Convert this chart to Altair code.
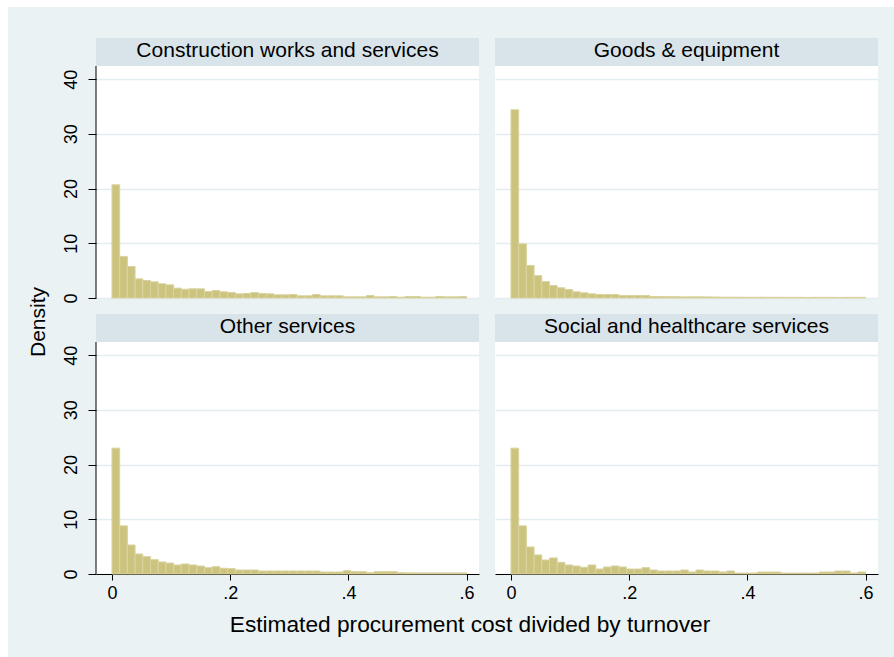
import altair as alt
import numpy as np
import pandas as pd

# Histogram densities per procurement category (46 equal bins on [0, 0.6])
N_BINS = 46
X_MAX = 0.6

construction = [20.7, 7.6, 5.76, 3.5, 3.2, 2.96, 2.6, 2.4, 1.8, 1.6,
                1.68, 1.68, 1.19, 1.37, 1.13, 1.0, 0.76, 0.82, 1.0, 0.82,
                0.76, 0.58, 0.58, 0.64, 0.4, 0.4, 0.64, 0.4, 0.4, 0.4,
                0.21, 0.21, 0.21, 0.46, 0.21, 0.21, 0.27, 0.15, 0.27, 0.27,
                0.15, 0.15, 0.27, 0.21, 0.21, 0.27]
goods = [34.4, 9.9, 5.95, 4.1, 3.0, 2.3, 1.86, 1.55, 1.13, 0.95,
         0.76, 0.64, 0.64, 0.64, 0.46, 0.46, 0.46, 0.46, 0.27, 0.27,
         0.24, 0.24, 0.2, 0.22, 0.22, 0.2, 0.18, 0.15, 0.15, 0.15,
         0.13, 0.13, 0.15, 0.13, 0.13, 0.12, 0.12, 0.12, 0.1, 0.12,
         0.12, 0.12, 0.1, 0.12, 0.12, 0.12]
other = [23.0, 8.8, 5.3, 3.66, 3.17, 2.62, 2.2, 2.0, 1.65, 1.83,
         1.65, 1.46, 1.16, 1.34, 1.04, 0.98, 0.73, 0.73, 0.73, 0.55,
         0.55, 0.55, 0.55, 0.55, 0.55, 0.55, 0.55, 0.37, 0.37, 0.37,
         0.61, 0.43, 0.43, 0.24, 0.43, 0.43, 0.43, 0.24, 0.2, 0.2,
         0.2, 0.2, 0.2, 0.2, 0.2, 0.2]
social = [23.0, 8.8, 4.94, 3.48, 2.56, 2.93, 2.13, 1.65, 1.46, 1.22,
          1.65, 0.91, 1.28, 1.46, 1.28, 0.91, 0.91, 1.16, 0.73, 0.55,
          0.55, 0.55, 0.73, 0.37, 0.73, 0.55, 0.55, 0.37, 0.55, 0.18,
          0.18, 0.18, 0.37, 0.37, 0.37, 0.18, 0.18, 0.18, 0.18, 0.18,
          0.37, 0.37, 0.55, 0.55, 0.18, 0.37]

titles = ["Construction works and services", "Goods & equipment",
          "Other services", "Social and healthcare services"]
x_ticks = [0, 0.2, 0.4, 0.6]
y_ticks = [0, 10, 20, 30, 40]
x_title = "Estimated procurement cost divided by turnover"
y_title = "Density"

# Styling
BG = "#EAF2F3"
STRIP = "#D8E4EA"
GRID = "#E3ECEF"
BAR_FILL = "#CCC47E"
BAR_EDGE = "#D9D3A1"
INK = "#000000"
FONT = "Liberation Sans"

W, H, HEAD = 383, 260, 28          # panel width, panel height, header strip height
PLOT_TOP = 42.4                    # data value at the top of the plot region
Y_TOP = PLOT_TOP * H / (H - HEAD)  # extends the scale up through the header strip
X_DOMAIN = [-0.027, 0.621]

bin_w = X_MAX / N_BINS
bin_lo = np.arange(N_BINS) * bin_w
bin_hi = bin_lo + bin_w


def panel(title, density, bottom, left, outer=False):
    df = pd.DataFrame({"lo": bin_lo, "hi": bin_hi, "density": density, "base": 0.0})
    one = pd.DataFrame({"label": [title]})

    xs = alt.Scale(domain=X_DOMAIN, nice=False, zero=False)
    ys = alt.Scale(domain=[0, Y_TOP], nice=False, zero=False)

    if bottom:
        x_axis = alt.Axis(values=x_ticks, title=None, grid=False,
                          labelExpr="datum.value == 0 ? '0' : replace(format(datum.value, '.1f'), '0.', '.')",
                          tickSize=6, tickColor=INK, domainColor=INK, domainWidth=1,
                          labelFontSize=18, labelColor=INK, labelFont=FONT,
                          labelPadding=4, labelFlush=False)
    else:
        x_axis = None

    if left:
        y_axis = alt.Axis(values=y_ticks, title=None, grid=True, gridColor=GRID,
                          gridWidth=1.5, domain=False, tickSize=8, tickColor=INK,
                          labelAngle=270, labelAlign="center", labelBaseline="bottom",
                          labelPadding=8, labelFontSize=18, labelColor=INK,
                          labelFont=FONT, labelFlush=False)
    else:
        y_axis = alt.Axis(values=y_ticks, title=None, grid=True, gridColor=GRID,
                          gridWidth=1.5, domain=False, ticks=False, labels=False)

    bars = alt.Chart(df).mark_rect(color=BAR_FILL, stroke=BAR_EDGE, strokeWidth=1).encode(
        x=alt.X("lo:Q", scale=xs, axis=x_axis),
        x2="hi:Q",
        y=alt.Y("density:Q", scale=ys, axis=y_axis),
        y2="base:Q",
    )
    header = alt.Chart(one).mark_rect(color=STRIP).encode(
        x=alt.value(0), x2=alt.value(W), y=alt.value(0), y2=alt.value(HEAD))
    head_text = alt.Chart(one).mark_text(
        font=FONT, fontSize=21, color=INK, align="center", baseline="alphabetic"
    ).encode(x=alt.value(W / 2), y=alt.value(18.5), text="label:N")

    layers = [header, head_text]
    if left:
        layers.append(alt.Chart(one).mark_rule(color=INK, strokeWidth=1).encode(
            x=alt.value(0), y=alt.value(HEAD), y2=alt.value(H)))
    layers.append(bars)

    if outer:
        # white page margin along the top and left edges
        layers.append(alt.Chart(one).mark_rect(color="white").encode(
            x=alt.value(-96), x2=alt.value(798), y=alt.value(-38), y2=alt.value(-31)))
        layers.append(alt.Chart(one).mark_rect(color="white").encode(
            x=alt.value(-96), x2=alt.value(-88), y=alt.value(-38), y2=alt.value(619)))
        layers.append(alt.Chart(pd.DataFrame({"t": [y_title]})).mark_text(
            font=FONT, fontSize=21, color=INK, angle=270, align="center",
            baseline="alphabetic").encode(
            x=alt.value(-51), y=alt.value(284), text="t:N"))
    if bottom and left:
        layers.append(alt.Chart(pd.DataFrame({"t": [x_title]})).mark_text(
            font=FONT, fontSize=22.7, color=INK, align="center",
            baseline="alphabetic").encode(
            x=alt.value(374), y=alt.value(318), text="t:N"))

    return alt.layer(*layers).properties(width=W, height=H)


chart = alt.concat(
    panel(titles[0], construction, bottom=False, left=True, outer=True),
    panel(titles[1], goods, bottom=False, left=False),
    panel(titles[2], other, bottom=True, left=True),
    panel(titles[3], social, bottom=True, left=False),
    columns=2, spacing=16, bounds="flush", padding=0,
).configure(
    background=BG, font=FONT
).configure_view(
    fill="white", strokeWidth=0
)

chart.save("out.html", embed_options={"renderer": "svg", "actions": False})
